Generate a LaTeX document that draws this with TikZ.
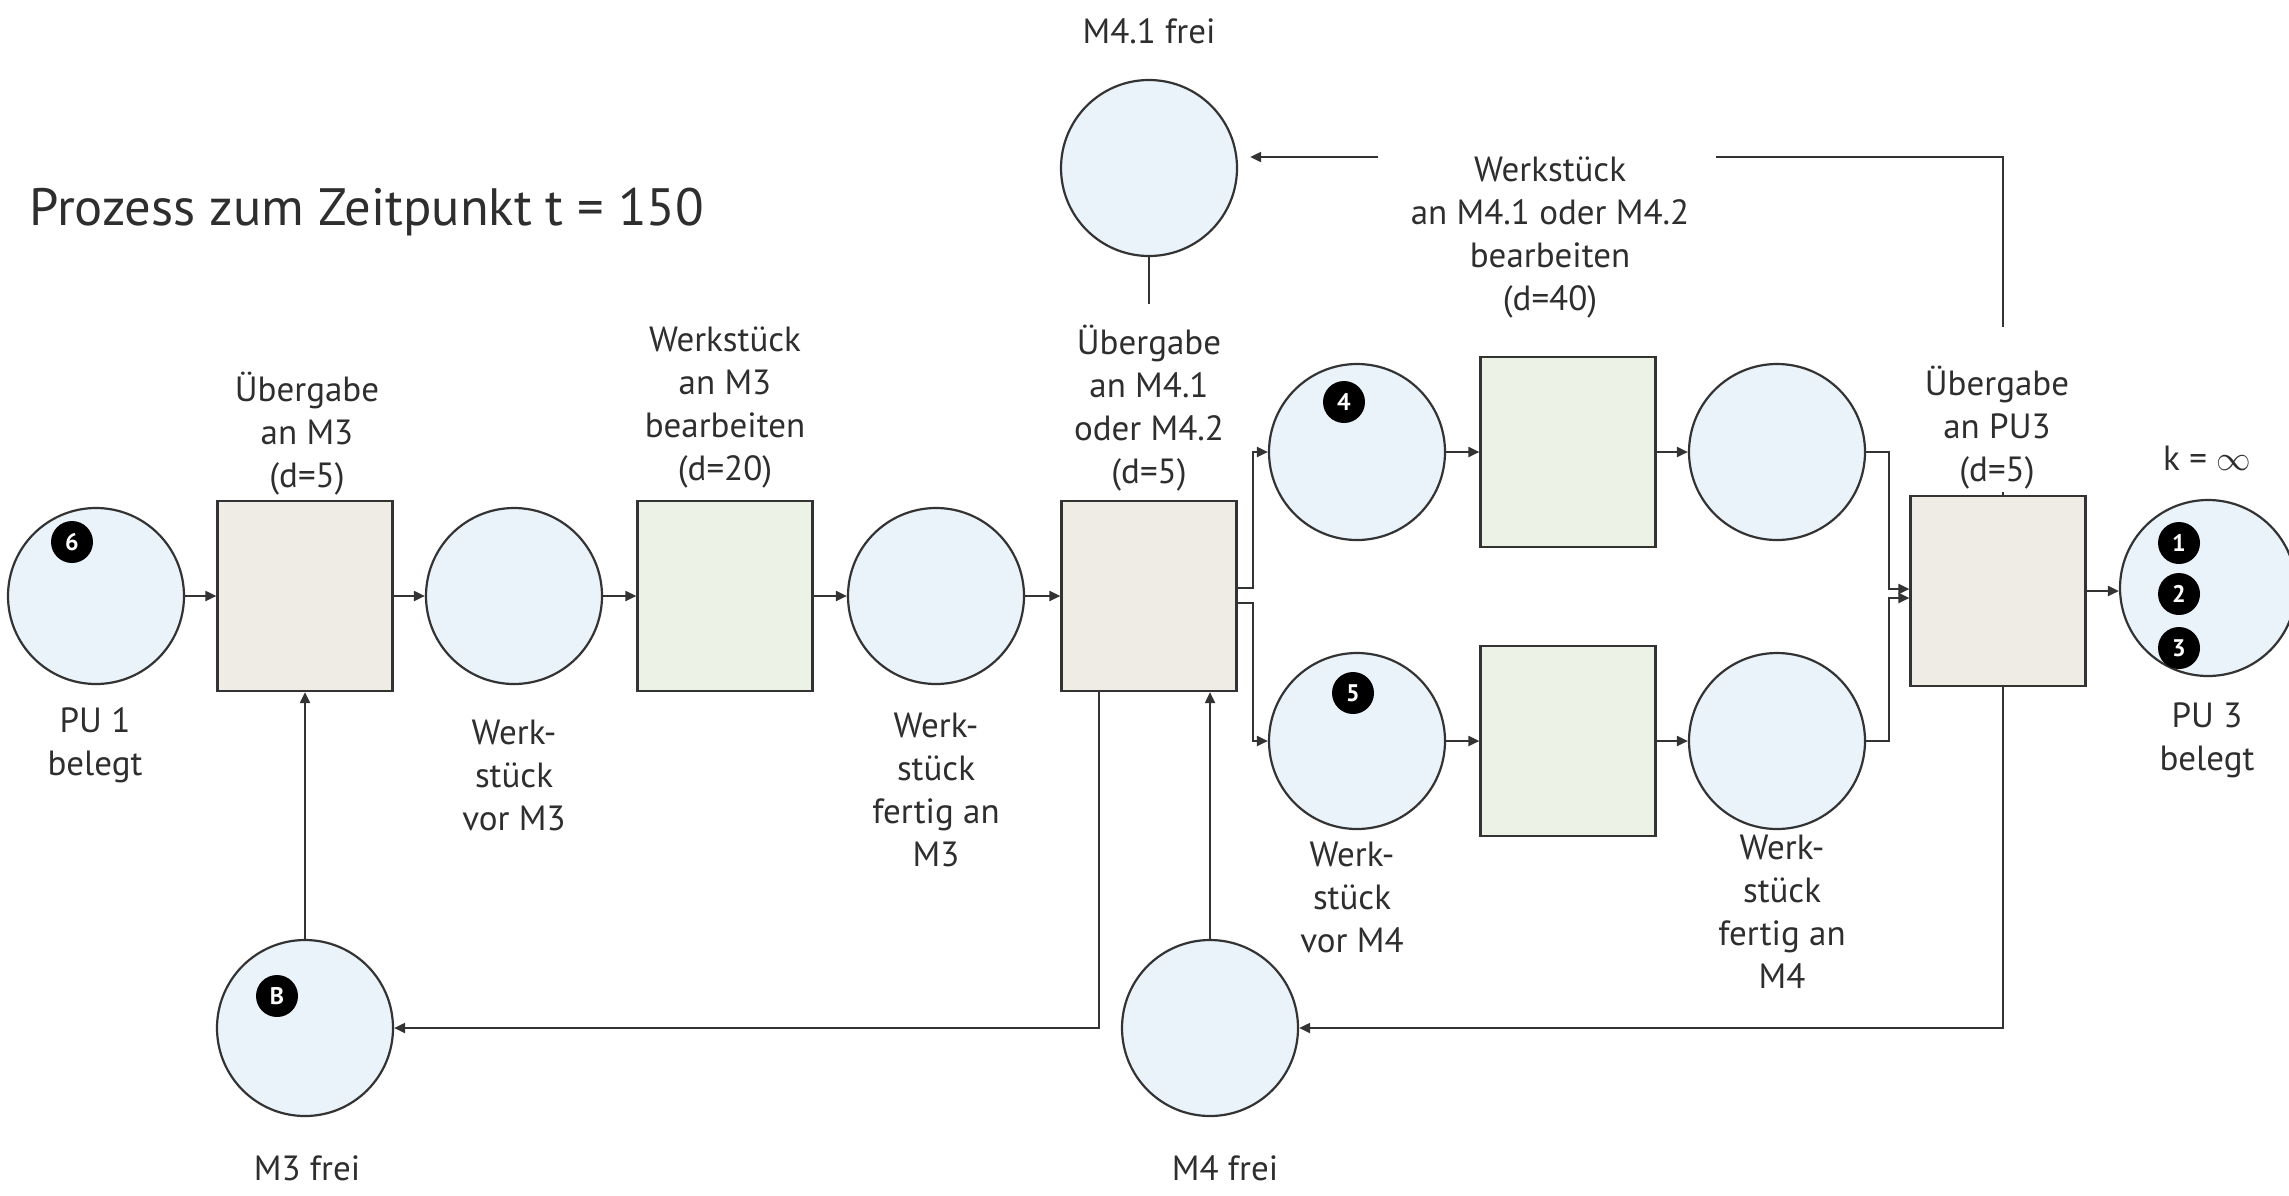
\documentclass[tikz,border=0pt]{standalone}
\usepackage{fontspec}
\setmainfont{PT Sans}
\usetikzlibrary{arrows.meta,calc}
\definecolor{placefill}{HTML}{EAF2FA}
\definecolor{transfer}{HTML}{EFEBE5}
\definecolor{work}{HTML}{ECF2E6}
\definecolor{ink}{HTML}{333333}
\definecolor{txt}{HTML}{2E2E2E}
\begin{document}
\begin{tikzpicture}[x=0.5pt,y=-0.5pt,
  place/.style={circle,draw=ink,line width=1.1pt,fill=placefill,minimum size=88pt,inner sep=0pt},
  transbox/.style={rectangle,draw=ink,line width=1.1pt,fill=transfer,minimum width=87.5pt,minimum height=95pt,inner sep=0pt},
  workbox/.style={transbox,fill=work},
  token/.style={circle,fill=black,text=white,inner sep=0pt,minimum size=21pt,font=\fontsize{12}{12}\selectfont\bfseries},
  lbl/.style={align=center,text=txt,font=\fontsize{17.5}{21.5}\selectfont,inner sep=0pt},
  conn/.style={draw=ink,line width=1pt,-{Triangle[length=5.5pt,width=5pt]}},
  plain/.style={draw=ink,line width=1pt}
]
\useasboundingbox (0,0) rectangle (2289,1195);

% title
\node[lbl,anchor=west,font=\fontsize{26.3}{32}\selectfont] (title) at (29,212) {Prozess zum Zeitpunkt t = 150};

% places and transitions
\node[place] (PU1) at (96,596) {};
\node[transbox] (T1) at (305,596) {};
\node[place] (PvM3) at (514,596) {};
\node[workbox] (TM3) at (725,596) {};
\node[place] (PfM3) at (936,596) {};
\node[transbox] (Tsplit) at (1149,596) {};
\node[place] (P4) at (1357,452) {};
\node[place] (P5) at (1357,741) {};
\node[workbox] (T41) at (1568,452) {};
\node[workbox] (T42) at (1568,741) {};
\node[place] (P41o) at (1777,452) {};
\node[place] (P42o) at (1777,741) {};
\node[transbox] (Tpu3) at (1998,591) {};
\node[place] (PU3) at (2208,588) {};
\node[place] (M3frei) at (305,1028) {};
\node[place] (M4frei) at (1210,1028) {};
\node[place] (M41frei) at (1149,168) {};

% tokens
\node[token] (k6) at (72,542) {6};
\node[token] (kB) at (277,996) {B};
\node[token] (k4) at (1344,402) {4};
\node[token] (k5) at (1353,693) {5};
\node[token] (k1) at (2179,543) {1};
\node[token] (k2) at (2179,594) {2};
\node[token] (k3) at (2179,648) {3};

% labels
\node[lbl] (l1) at (307,434) {Übergabe\\an M3\\(d=5)};
\node[lbl] (l2) at (725,408) {Werkstück\\an M3\\bearbeiten\\(d=20)};
\node[lbl] (l3) at (1149,408) {Übergabe\\an M4.1\\oder M4.2\\(d=5)};
\node[lbl] (l4) at (1550,238) {Werkstück\\an M4.1 oder M4.2\\bearbeiten\\(d=40)};
\node[lbl] (l5) at (1997,428) {Übergabe\\an PU3\\(d=5)};
\node[lbl] (l6) at (2207,458) {k = $\infty$};
\node[lbl] (l7) at (2207,740) {PU 3\\belegt};
\node[lbl] (l8) at (95,745) {PU 1\\belegt};
\node[lbl] (l9) at (514,775) {Werk-\\stück\\vor M3};
\node[lbl] (l10) at (936,790) {Werk-\\stück\\fertig an\\M3};
\node[lbl] (l11) at (1352,897) {Werk-\\stück\\vor M4};
\node[lbl] (l12) at (1782,912) {Werk-\\stück\\fertig an\\M4};
\node[lbl] (l13) at (307,1168) {M3 frei};
\node[lbl] (l14) at (1225,1168) {M4 frei};
\node[lbl] (l15) at (1149,31) {M4.1 frei};

% main flow
\draw[conn] (PU1) -- (T1);
\draw[conn] (T1) -- (PvM3);
\draw[conn] (PvM3) -- (TM3);
\draw[conn] (TM3) -- (PfM3);
\draw[conn] (PfM3) -- (Tsplit);
\draw[conn] ($(Tsplit.east)+(0,-8)$) -- ++(15,0) |- (P4.west);
\draw[conn] ($(Tsplit.east)+(0,7)$) -- ++(15,0) |- (P5.west);
\draw[conn] (P4) -- (T41);
\draw[conn] (T41) -- (P41o);
\draw[conn] (P5) -- (T42);
\draw[conn] (T42) -- (P42o);
\draw[conn] (P41o.east) -- ++(23,0) |- ($(Tpu3.west)+(0,-2)$);
\draw[conn] (P42o.east) -- ++(23,0) |- ($(Tpu3.west)+(0,7)$);
\draw[conn] (Tpu3.east) -- (Tpu3.east -| PU3.west);

% feedback arcs
\draw[conn] ($(Tpu3.south)+(5,0)$) |- (M4frei.east);
\draw[conn] (M4frei.north) -- (M4frei.north |- Tsplit.south);
\draw[conn] ($(Tsplit.south)+(-50,0)$) |- (M3frei.east);
\draw[conn] (M3frei) -- (T1);

% top
\coordinate (gT) at ($(Tpu3.north)+(5,-168)$);
\coordinate (gR) at (1716,157);
\coordinate (gL) at (1378,157);
\draw[plain] (gT) |- (gR);
\draw[plain] (Tpu3.north) ++(5,0) -- ++(0,-3);
\draw[conn,shorten >=6pt] (gL) -- (M41frei.east |- gL);
\draw[plain] (M41frei.south) -- ++(0,47);
\end{tikzpicture}
\end{document}
